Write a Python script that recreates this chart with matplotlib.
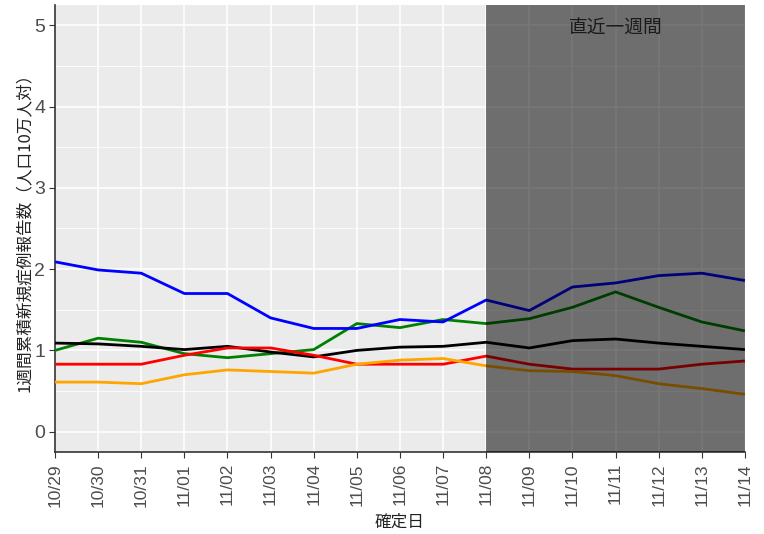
import matplotlib
matplotlib.use("Agg")
import matplotlib.pyplot as plt
import numpy as np

plt.rcParams['font.family'] = ['Noto Sans CJK JP', 'DejaVu Sans']

dates = ["10/29", "10/30", "10/31", "11/01", "11/02", "11/03", "11/04", "11/05",
         "11/06", "11/07", "11/08", "11/09", "11/10", "11/11", "11/12", "11/13", "11/14"]
blue = [2.09, 1.99, 1.95, 1.70, 1.70, 1.40, 1.27, 1.27, 1.38, 1.35, 1.62, 1.49, 1.78, 1.83, 1.92, 1.95, 1.86]
green = [1.00, 1.15, 1.10, 0.96, 0.91, 0.96, 1.01, 1.33, 1.28, 1.38, 1.33, 1.39, 1.53, 1.72, 1.53, 1.35, 1.24]
black = [1.09, 1.08, 1.05, 1.01, 1.05, 0.98, 0.92, 1.00, 1.04, 1.05, 1.10, 1.03, 1.12, 1.14, 1.09, 1.05, 1.01]
red = [0.83, 0.83, 0.83, 0.94, 1.03, 1.03, 0.94, 0.83, 0.83, 0.83, 0.93, 0.83, 0.77, 0.77, 0.77, 0.83, 0.87]
orange = [0.61, 0.61, 0.59, 0.70, 0.76, 0.74, 0.72, 0.83, 0.88, 0.90, 0.81, 0.75, 0.74, 0.69, 0.59, 0.53, 0.46]

series = [(green, "#008000"), (black, "black"), (red, "red"), (orange, "#FFA500"), (blue, "blue")]

fig = plt.figure(figsize=(7.64, 5.34), dpi=100)
ax = fig.add_axes([0.072, 0.1536, 0.903, 0.837])
ax.set_facecolor("#EBEBEB")

x = np.arange(len(dates))
for vals, col in series:
    ax.plot(x, vals, color=col, lw=2.0, zorder=3, solid_capstyle="butt")

ax.set_xlim(0, len(dates) - 1)
ax.set_ylim(-0.25, 5.25)
ax.axvspan(10, len(dates) - 1, color="black", alpha=0.53, lw=0, zorder=4)
ax.text(13, 4.96, "直近一週間", ha="center", va="center", fontsize=13.5, color="#1a1a1a", zorder=5)

tick_font = ['Liberation Sans', 'DejaVu Sans']
ax.set_xticks(x)
ax.set_xticklabels(dates, rotation=90, fontsize=12.5, color="#4D4D4D", family=tick_font)
ax.set_yticks([0, 1, 2, 3, 4, 5])
ax.set_yticklabels(["0", "1", "2", "3", "4", "5"], fontsize=14, color="#4D4D4D", family=tick_font)
ax.set_yticks(np.arange(0.5, 5.0, 1.0), minor=True)
ax.tick_params(axis="y", length=4, color="#333333", pad=3)
ax.tick_params(axis="x", length=4, color="#333333", pad=4)
ax.tick_params(axis="y", which="minor", length=0)
ax.grid(True, which="major", color="white", lw=1.1, zorder=1)
ax.grid(True, which="minor", axis="y", color="white", lw=0.55, zorder=1)
ax.set_axisbelow(True)

for s in ["top", "right"]:
    ax.spines[s].set_visible(False)
for s in ["left", "bottom"]:
    ax.spines[s].set_color("#333333")
    ax.spines[s].set_linewidth(1.2)

ax.set_xlabel("確定日", fontsize=12, color="#222222", labelpad=5)
ax.set_ylabel("1週間累積新規症例報告数（人口10万人対）", fontsize=12, color="#222222", labelpad=1)

fig.savefig("out.png", dpi=100)
